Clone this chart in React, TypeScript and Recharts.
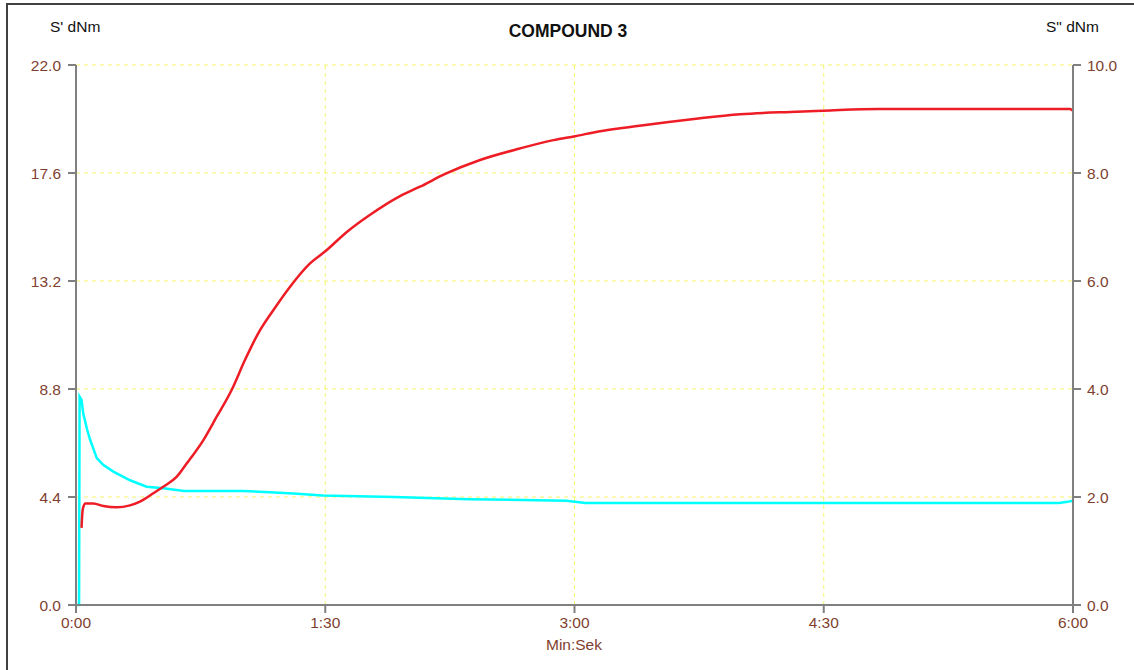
import React from 'react';
import { LineChart, Line, XAxis, YAxis, CartesianGrid } from 'recharts';

// S' (left axis, dNm) — red curve
const redTime = [2.0, 2.4, 3.3, 6.3, 9.9, 14.7, 19.5, 23.1, 27.9, 31.5, 36.4, 40.0, 41.8, 46.0, 50.8, 56.2, 61.0, 65.8, 71.3, 77.3, 84.5, 89.9, 97.8, 106.2, 117, 124.2, 133.3, 145.9, 160.3, 172.4, 180.2, 189.2, 196.5, 201.3, 213.3, 225.4, 239.8, 257.9, 269.9, 289.7, 359.0, 359.7];
const redValues = [3.14, 3.87, 4.14, 4.14, 4.03, 3.98, 4.06, 4.21, 4.55, 4.82, 5.23, 5.77, 6.04, 6.72, 7.67, 8.76, 9.98, 11.07, 12.02, 12.97, 13.92, 14.4, 15.2, 15.9, 16.66, 17.04, 17.56, 18.13, 18.6, 18.94, 19.1, 19.3, 19.42, 19.49, 19.67, 19.83, 19.99, 20.09, 20.14, 20.21, 20.21, 20.14];

// S'' (right axis, dNm) — cyan curve
const cyanTime = [0, 1.1, 1.3, 2.0, 2.6, 4.0, 5.1, 7.5, 9.9, 13.5, 19.5, 25.5, 31.5, 39, 60, 70, 80, 89, 115, 142, 177, 184, 355, 358, 360];
const cyanValues = [0, 0, 3.86, 3.8, 3.55, 3.25, 3.06, 2.72, 2.59, 2.47, 2.31, 2.19, 2.16, 2.11, 2.11, 2.09, 2.06, 2.03, 2.0, 1.96, 1.93, 1.89, 1.89, 1.91, 1.93];

const xTicks = [0, 90, 180, 270, 360];
const xTickLabels = ['0:00', '1:30', '3:00', '4:30', '6:00'];
const leftTicks = [0, 4.4, 8.8, 13.2, 17.6, 22];
const rightTicks = [0, 2, 4, 6, 8, 10];

const redData = redTime.map((t, i) => ({ t, v: redValues[i] }));
const cyanData = cyanTime.map((t, i) => ({ t, v: cyanValues[i] }));

const FONT = '"Liberation Sans", Arial, sans-serif';
const TICK_COLOR = '#7f3f2f';
const AXIS_COLOR = '#808080';
const tickStyle = { fontFamily: FONT, fontSize: 15.5, fill: TICK_COLOR };

export default function App() {
  return (
    <div style={{ position: 'absolute', left: 0, top: 0, width: 1134, height: 670, background: '#fff', overflow: 'hidden' }}>
      <div style={{ position: 'absolute', left: 6, top: 3, width: 1128, height: 667, borderLeft: '2px solid #404040', borderTop: '2px solid #404040' }} />
      <div style={{ position: 'absolute', left: 0, top: 0 }}>
        <LineChart width={1134} height={670} margin={{ top: 65, right: 0, bottom: 35, left: 0 }}>
          <CartesianGrid yAxisId="left" stroke="#f4f46a" strokeDasharray="4 4" strokeWidth={1} />
          <XAxis
            dataKey="t"
            type="number"
            domain={[0, 360]}
            ticks={xTicks}
            tickFormatter={(v: number) => xTickLabels[xTicks.indexOf(v)] ?? ''}
            allowDuplicatedCategory={false}
            height={30}
            tickSize={8}
            tickMargin={4}
            tick={tickStyle}
            axisLine={{ stroke: AXIS_COLOR, strokeWidth: 2 }}
            tickLine={{ stroke: AXIS_COLOR, strokeWidth: 2 }}
            interval={0}
          />
          <YAxis
            yAxisId="left"
            orientation="left"
            type="number"
            domain={[0, 22]}
            ticks={leftTicks}
            tickFormatter={(v: number) => v.toFixed(1)}
            width={76}
            tickSize={8}
            tickMargin={7}
            tick={tickStyle}
            axisLine={{ stroke: AXIS_COLOR, strokeWidth: 2 }}
            tickLine={{ stroke: AXIS_COLOR, strokeWidth: 2 }}
            interval={0}
          />
          <YAxis
            yAxisId="right"
            orientation="right"
            type="number"
            domain={[0, 10]}
            ticks={rightTicks}
            tickFormatter={(v: number) => v.toFixed(1)}
            width={61}
            tickSize={8}
            tickMargin={6}
            tick={tickStyle}
            axisLine={{ stroke: AXIS_COLOR, strokeWidth: 2 }}
            tickLine={{ stroke: AXIS_COLOR, strokeWidth: 2 }}
            interval={0}
          />
          <Line
            yAxisId="right"
            data={cyanData}
            dataKey="v"
            type="linear"
            stroke="#00ffff"
            strokeWidth={2.5}
            dot={false}
            activeDot={false}
            isAnimationActive={false}
          />
          <Line
            yAxisId="left"
            data={redData}
            dataKey="v"
            type="monotoneX"
            stroke="#ee1c24"
            strokeWidth={2.5}
            dot={false}
            activeDot={false}
            isAnimationActive={false}
          />
        </LineChart>
      </div>
      <div style={{ position: 'absolute', left: 50, top: 18, fontFamily: FONT, fontSize: 15.5, color: '#111', whiteSpace: 'nowrap' }}>S' dNm</div>
      <div style={{ position: 'absolute', left: 1046, top: 18, fontFamily: FONT, fontSize: 15.5, color: '#111', whiteSpace: 'nowrap' }}>S" dNm</div>
      <div style={{ position: 'absolute', left: 0, width: 1136, top: 21, textAlign: 'center', fontFamily: FONT, fontWeight: 'bold', fontSize: 17.5, color: '#111', whiteSpace: 'nowrap' }}>COMPOUND 3</div>
      <div style={{ position: 'absolute', left: 0, width: 1148, top: 636, textAlign: 'center', fontFamily: FONT, fontSize: 15.5, color: TICK_COLOR, whiteSpace: 'nowrap' }}>Min:Sek</div>
    </div>
  );
}
